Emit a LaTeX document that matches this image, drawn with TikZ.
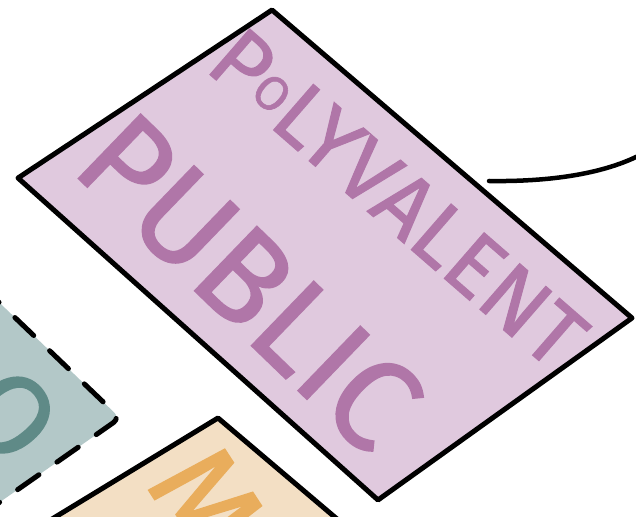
\documentclass[tikz,border=0pt]{standalone}
\usepackage{fontspec}
\setmainfont{Fira Sans}
\newfontfamily\markerfont[FakeBold=1.2]{Fira Sans}
\usepackage{xcolor}
\usepackage{tikz}
\usetikzlibrary{calc,positioning}

\definecolor{cardpink}{RGB}{224,201,222}
\definecolor{inkpink}{RGB}{176,118,168}
\definecolor{cardteal}{RGB}{179,200,200}
\definecolor{inkteal}{RGB}{95,138,135}
\definecolor{cardorange}{RGB}{243,223,196}
\definecolor{inkorange}{RGB}{233,173,92}

\begin{document}
\begin{tikzpicture}[x=1pt, y=1pt,
    outline/.style={line width=5pt, line join=round, line cap=round},
    scrawl/.style={inner sep=0pt, font=\markerfont\fontsize{#1}{#1}\selectfont}]

    % Frame
    \useasboundingbox (0,0) rectangle (636,516);
    \clip (0,0) rectangle (636,516);

    % Teal card
    \fill[cardteal, rounded corners=8pt] (-40,251) -- (120,98) -- (-40,-14) -- cycle;
    \draw[outline, dash pattern=on 26pt off 22pt, dash phase=20pt, rounded corners=8pt]
        (-40,251) -- (120,98) -- (-40,-14);
    \node[scrawl=115, text=inkteal, rotate=-50] (letterO) at (10,101) {O};

    % Orange card
    \draw[outline, fill=cardorange] (34,-14) -- (218,98) -- (350,-14);
    \node[scrawl=125, text=inkorange, rotate=-57] (letterM) at (207,15) {M};

    % Pink card
    \draw[outline, fill=cardpink] (272,506) -- (632,198) -- (378,16) -- (18,338) -- cycle;
    \node[scrawl=88, text=inkpink, rotate=-41] (polyvalent) at (398,318)
        {P\raisebox{10pt}{\fontsize{48}{48}\selectfont O}LYVALENT};
    \node[scrawl=130, text=inkpink, rotate=-44] (public) at (250,234) {PUBLIC};

    % Leader
    \coordinate (tail) at (489,335);
    \coordinate (offpage) at (642,362);
    \draw[line width=4.5pt, line cap=round] (tail)
        .. controls (560,334) and (610,345) .. (offpage);

\end{tikzpicture}
\end{document}
